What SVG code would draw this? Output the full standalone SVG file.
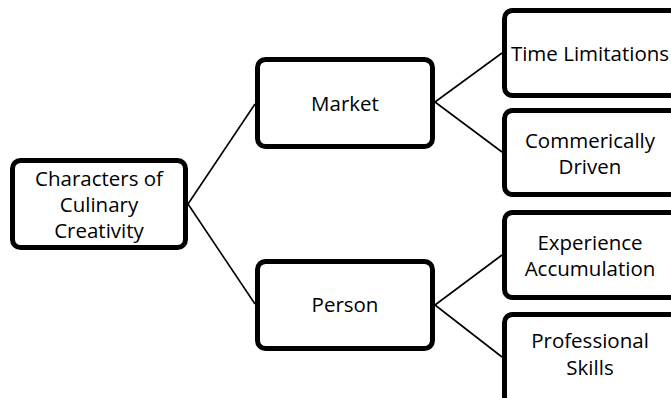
<svg xmlns="http://www.w3.org/2000/svg" width="671" height="398" viewBox="0 0 671 398">
<style>
.box{fill:#fff;stroke:#000;stroke-width:5}
.t{font-family:"Open Sans","Liberation Sans",sans-serif;font-size:20.5px;fill:#000;text-anchor:middle}
.c{stroke:#000;stroke-width:1.6;fill:none}
</style>
<rect width="671" height="398" fill="#fff"/>
<g id="connectors">
<line class="c" x1="188" y1="204" x2="255" y2="104"/>
<line class="c" x1="188" y1="204" x2="255" y2="304"/>
<line class="c" x1="435" y1="102" x2="502" y2="53"/>
<line class="c" x1="435" y1="102" x2="502" y2="152"/>
<line class="c" x1="435" y1="305" x2="502" y2="255"/>
<line class="c" x1="435" y1="305" x2="502" y2="357"/>
</g>
<g id="root">
<rect class="box" x="12.5" y="160.5" width="173" height="87" rx="8"/>
<text class="t" x="99" y="186">Characters of</text>
<text class="t" x="99" y="212">Culinary</text>
<text class="t" x="99" y="238">Creativity</text>
</g>
<g id="market">
<rect class="box" x="257.5" y="59.5" width="175" height="87" rx="8"/>
<text class="t" x="345" y="111">Market</text>
</g>
<g id="person">
<rect class="box" x="257.5" y="261.5" width="175" height="87" rx="8"/>
<text class="t" x="345" y="312">Person</text>
</g>
<g id="time">
<rect class="box" x="504.5" y="10.5" width="180" height="85" rx="8"/>
<text class="t" x="590" y="61">Time Limitations</text>
</g>
<g id="commercial">
<rect class="box" x="504.5" y="110.5" width="180" height="84" rx="8"/>
<text class="t" x="590" y="148">Commerically</text>
<text class="t" x="590" y="174">Driven</text>
</g>
<g id="experience">
<rect class="box" x="504.5" y="212.5" width="180" height="85" rx="8"/>
<text class="t" x="590" y="250">Experience</text>
<text class="t" x="590" y="276">Accumulation</text>
</g>
<g id="professional">
<rect class="box" x="504.5" y="314.5" width="180" height="90" rx="8"/>
<text class="t" x="590" y="348">Professional</text>
<text class="t" x="590" y="375">Skills</text>
</g>
</svg>
